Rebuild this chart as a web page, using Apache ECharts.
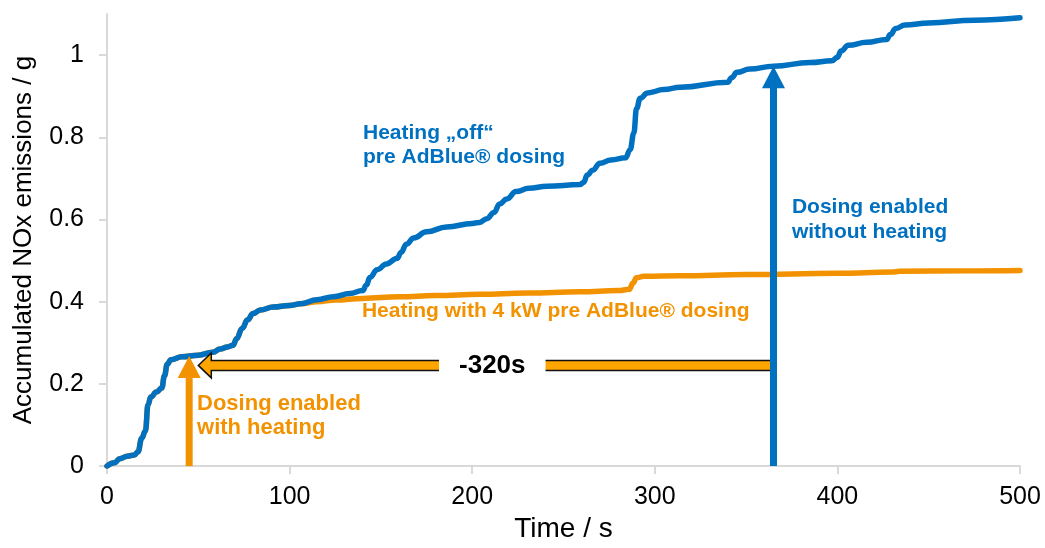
<!DOCTYPE html>
<html>
<head>
<meta charset="utf-8">
<title>Accumulated NOx emissions</title>
<script src="https://cdn.jsdelivr.net/npm/echarts@6/dist/echarts.min.js"></script>
<style>
  html, body { margin: 0; padding: 0; background: #ffffff; }
  #chart { width: 1045px; height: 548px; }
</style>
</head>
<body>
<div id="chart"></div>
<script>
// Accumulated NOx over time, [time s, grams]
const heatingOff = [
  [0, 0], [4, 0.008], [7, 0.018], [11, 0.024], [15, 0.027], [17, 0.035], [19, 0.068], [21, 0.085],
  [22.5, 0.15], [24, 0.168], [27, 0.18], [30, 0.19], [31.5, 0.22], [33, 0.248], [35, 0.259], [41, 0.266],
  [50, 0.27], [58, 0.277], [62, 0.285], [66, 0.29], [69, 0.294], [71, 0.31], [74, 0.335], [77, 0.356],
  [80, 0.371], [84, 0.38], [91, 0.387], [100, 0.391], [106, 0.395], [115, 0.405], [124, 0.412], [133, 0.42],
  [140, 0.427], [142, 0.44], [144, 0.459], [148, 0.478], [153, 0.492], [159, 0.506], [161, 0.52], [164, 0.54],
  [168, 0.555], [175, 0.57], [186, 0.582], [200, 0.59], [204, 0.593], [208, 0.602], [212, 0.617], [215, 0.638],
  [219, 0.65], [224, 0.668], [231, 0.676], [241, 0.681], [259, 0.685], [261, 0.69], [263, 0.708], [266, 0.72],
  [270, 0.737], [276, 0.745], [284, 0.75], [286.5, 0.77], [288.5, 0.81], [290, 0.87], [292, 0.895], [296, 0.908],
  [305, 0.916], [314, 0.922], [340, 0.934], [342, 0.945], [345, 0.958], [352, 0.966], [365, 0.973], [385, 0.982],
  [397, 0.986], [400, 0.995], [402, 1.01], [406, 1.024], [416, 1.031], [427, 1.038], [429, 1.05], [432, 1.065],
  [437, 1.073], [450, 1.078], [475, 1.085], [500, 1.091]
];

const heating4kW = [
  [0, 0], [4, 0.008], [7, 0.018], [11, 0.024], [15, 0.027], [17, 0.035], [19, 0.068], [21, 0.085],
  [22.5, 0.15], [24, 0.168], [27, 0.18], [30, 0.19], [31.5, 0.22], [33, 0.248], [35, 0.259], [41, 0.266],
  [50, 0.27], [58, 0.277], [62, 0.285], [66, 0.29], [69, 0.294], [71, 0.31], [74, 0.335], [77, 0.356],
  [80, 0.371], [84, 0.38], [91, 0.387], [100, 0.391], [106, 0.395], [115, 0.4], [125, 0.404], [140, 0.408],
  [160, 0.412], [180, 0.415], [204, 0.418], [230, 0.421], [259, 0.424], [280, 0.427], [286, 0.43], [288, 0.445],
  [290, 0.458], [294, 0.462], [314, 0.463], [350, 0.466], [400, 0.469], [430, 0.472], [434, 0.474], [470, 0.475],
  [500, 0.476]
];

// Dosing start markers: [time s, accumulated NOx at that moment]
const dosingWithHeating = [45, 0.268];
const dosingWithoutHeating = [365, 0.973];

// Time saved: [from time, to time, level], with its caption
const timeGain = [365, 50, 0.245];
const timeGainText = '-320s';
const timeGainTextAt = [211, 0.245];

const yTicks = [0, 0.2, 0.4, 0.6, 0.8, 1];

const BLUE = '#0070C0';
const ORANGE = '#F39200';
const FONT = '"Liberation Sans", Arial, sans-serif';

// Captions anchored in axis units (left/top corner)
const notes = [
  { text: 'Heating \u201Eoff\u201C\npre AdBlue\u00AE dosing', at: [140.2, 0.840], color: BLUE, size: 21, lh: 24 },
  { text: 'Dosing enabled\nwithout heating', at: [375.1, 0.660], color: BLUE, size: 21, lh: 25 },
  { text: 'Heating with 4 kW pre AdBlue\u00AE dosing', at: [139.6, 0.405], color: ORANGE, size: 21, lh: 24 },
  { text: 'Dosing enabled\nwith heating', at: [49.3, 0.181], color: ORANGE, size: 22, lh: 24 }
];

const chart = echarts.init(document.getElementById('chart'), null, { renderer: 'canvas' });

const axisGrey = '#d9d9d9';

function renderUpArrow(color) {
  return function (params, api) {
    const t = api.value(0), v = api.value(1);
    const base = api.coord([t, 0]);
    const tip = api.coord([t, v]);
    const headLen = 22, headHalf = 11.5, shaft = 7;
    return {
      type: 'group',
      children: [
        {
          type: 'rect',
          shape: { x: base[0] - shaft / 2, y: tip[1] + headLen - 1, width: shaft, height: base[1] - tip[1] - headLen + 1 },
          style: { fill: color }
        },
        {
          type: 'polygon',
          shape: { points: [[tip[0], tip[1]], [tip[0] - headHalf, tip[1] + headLen], [tip[0] + headHalf, tip[1] + headLen]] },
          style: { fill: color }
        }
      ]
    };
  };
}

function renderBlockArrow(params, api) {
  const from = api.coord([api.value(0), api.value(2)]);
  const to = api.coord([api.value(1), api.value(2)]);
  const y = from[1];
  const half = 5, headHalf = 12.5, headLen = 13;
  const hx = to[0] + headLen;
  const label = api.coord(timeGainTextAt);
  return {
    type: 'group',
    children: [
      {
        type: 'polygon',
        shape: {
          points: [
            [from[0], y - half], [hx, y - half], [hx, y - headHalf], [to[0], y],
            [hx, y + headHalf], [hx, y + half], [from[0], y + half]
          ]
        },
        style: { fill: '#FFA500', stroke: '#111111', lineWidth: 1.5 }
      },
      {
        type: 'text',
        x: label[0],
        y: label[1],
        style: {
          text: timeGainText,
          font: 'bold 26px ' + FONT,
          fill: '#000000',
          align: 'center',
          verticalAlign: 'middle',
          backgroundColor: '#ffffff',
          padding: [4, 20, 2, 20]
        }
      }
    ]
  };
}

function renderNote(params, api) {
  const n = notes[params.dataIndex];
  const p = api.coord(n.at);
  return {
    type: 'text',
    x: p[0],
    y: p[1],
    style: {
      text: n.text,
      font: 'bold ' + n.size + 'px ' + FONT,
      lineHeight: n.lh,
      fill: n.color,
      align: 'left',
      verticalAlign: 'top'
    }
  };
}

const option = {
  animation: false,
  backgroundColor: '#ffffff',
  textStyle: { fontFamily: FONT },
  grid: { left: 107, right: 25, top: 14, bottom: 72, containLabel: false },
  xAxis: {
    type: 'value',
    min: 0,
    max: 500,
    interval: 100,
    name: 'Time / s',
    nameLocation: 'middle',
    nameGap: 45,
    nameTextStyle: { fontSize: 28, color: '#000000', fontFamily: FONT },
    axisLine: { show: true, onZero: false, lineStyle: { color: axisGrey, width: 2 } },
    axisTick: { show: true, length: 8, lineStyle: { color: axisGrey, width: 2 } },
    axisLabel: { fontSize: 25, color: '#000000', margin: 19, fontFamily: FONT },
    splitLine: { show: false }
  },
  yAxis: {
    type: 'value',
    min: 0,
    max: 1.1,
    interval: 0.2,
    name: 'Accumulated NOx emissions / g',
    nameLocation: 'middle',
    nameGap: 70,
    nameTextStyle: { fontSize: 26, color: '#000000', fontFamily: FONT },
    axisLine: { show: true, lineStyle: { color: axisGrey, width: 2 } },
    axisTick: { show: true, length: 8, customValues: yTicks, lineStyle: { color: axisGrey, width: 2 } },
    axisLabel: { fontSize: 25, color: '#000000', margin: 23, fontFamily: FONT, customValues: yTicks },
    splitLine: { show: false }
  },
  series: [
    {
      name: 'Heating with 4 kW pre AdBlue dosing',
      type: 'line',
      data: heating4kW,
      showSymbol: false,
      smooth: 0.45,
      smoothMonotone: 'x',
      lineStyle: { color: ORANGE, width: 5.5, cap: 'round', join: 'round' },
      itemStyle: { color: ORANGE },
      silent: true,
      z: 2
    },
    {
      name: 'Heating off pre AdBlue dosing',
      type: 'line',
      data: heatingOff,
      showSymbol: false,
      smooth: 0.45,
      smoothMonotone: 'x',
      lineStyle: { color: BLUE, width: 5.5, cap: 'round', join: 'round' },
      itemStyle: { color: BLUE },
      silent: true,
      z: 3
    },
    {
      type: 'custom',
      data: [timeGain],
      renderItem: renderBlockArrow,
      clip: false,
      silent: true,
      z: 4
    },
    {
      type: 'custom',
      data: [dosingWithHeating],
      renderItem: renderUpArrow(ORANGE),
      clip: false,
      silent: true,
      z: 5
    },
    {
      type: 'custom',
      data: [dosingWithoutHeating],
      renderItem: renderUpArrow(BLUE),
      clip: false,
      silent: true,
      z: 5
    },
    {
      type: 'custom',
      data: notes.map(n => n.at),
      renderItem: renderNote,
      clip: false,
      silent: true,
      z: 6
    }
  ]
};

chart.setOption(option);
</script>
</body>
</html>
